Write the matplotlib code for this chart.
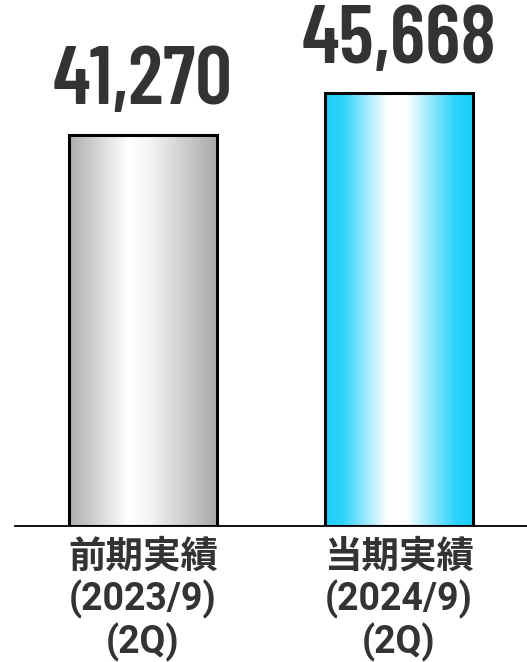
import numpy as np
import matplotlib
matplotlib.use('Agg')
import matplotlib.pyplot as plt
from matplotlib.colors import LinearSegmentedColormap

# --- data ---
categories = ['前期実績\n(2023/9)\n(2Q)', '当期実績\n(2024/9)\n(2Q)']
values = [41270, 45668]
value_labels = ['41,270', '45,668']

# gradient stops for the "cylinder" look (left -> right)
gray_cmap = LinearSegmentedColormap.from_list(
    'gray_cyl', [(0.0, '#aeaeae'), (0.40, '#ffffff'), (0.55, '#f4f4f4'), (1.0, '#a9a9a9')])
cyan_cmap = LinearSegmentedColormap.from_list(
    'cyan_cyl', [(0.0, '#1ccff9'), (0.12, '#2cd3fa'), (0.42, '#ffffff'), (0.55, '#ffffff'),
                 (0.88, '#2cd3fa'), (1.0, '#1ccff9')])
cmaps = [gray_cmap, cyan_cmap]

text_color = '#333333'

fig = plt.figure(figsize=(5.27, 6.62), dpi=100)
ax = fig.add_axes([15 / 527, 136 / 662, 512 / 527, 526 / 662])

x = np.arange(len(values))
bars = ax.bar(x, values, width=0.575, facecolor='none', edgecolor='black', linewidth=2.2, zorder=3)

grad = np.linspace(0, 1, 256).reshape(1, -1)
for bar, cmap in zip(bars, cmaps):
    x0, w, h = bar.get_x(), bar.get_width(), bar.get_height()
    im = ax.imshow(grad, cmap=cmap, aspect='auto', extent=[x0, x0 + w, 0, h],
                   interpolation='bicubic', zorder=2)
    im.set_clip_path(bar)

for xi, v, lab in zip(x, values, value_labels):
    ax.annotate(lab, (xi, v), xytext=(0, 22), textcoords='offset points',
                ha='center', va='baseline', fontsize=59, fontweight=600,
                family=['Barlow Condensed', 'DejaVu Sans'], color=text_color)

ax.set_xlim(-0.5, 1.5)
ax.set_ylim(0, 55520)
ax.set_yticks([])
ax.set_xticks(x)
ax.set_xticklabels(categories, fontsize=27, fontweight='bold', color=text_color,
                   family=['Roboto', 'Noto Sans CJK JP'], linespacing=1.12)
ax.tick_params(axis='x', length=0, pad=9)
for s in ['top', 'left', 'right']:
    ax.spines[s].set_visible(False)
ax.spines['bottom'].set_linewidth(1.3)
ax.spines['bottom'].set_zorder(4)

fig.savefig('out.png', dpi=100)
